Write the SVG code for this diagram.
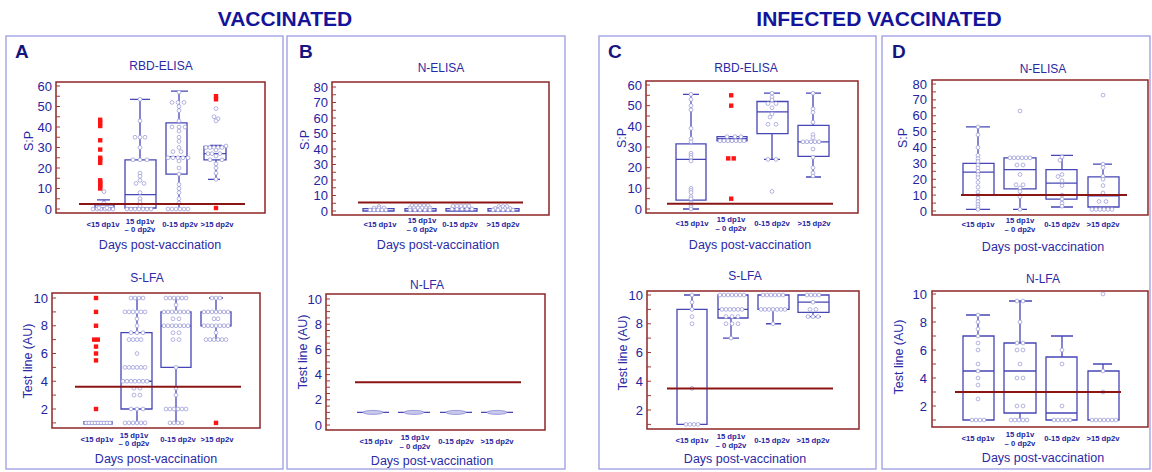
<svg xmlns="http://www.w3.org/2000/svg" width="1152" height="472" viewBox="0 0 1152 472">
<style>
text{font-family:"Liberation Sans",Arial,sans-serif;fill:#1f1f9e}
.hdr{font-size:21px;font-weight:bold;fill:#14149a;text-anchor:middle}
.let{font-size:19px;font-weight:bold;fill:#15157e}
.ttl{font-size:12px;text-anchor:middle;fill:#2a2aa6}
.tk{font-size:13px;text-anchor:end;fill:#2424a0}
.ax{font-size:12.5px;text-anchor:middle;fill:#2a2aa6}
.cat{font-size:7.7px;font-weight:bold;text-anchor:middle;fill:#2424a0}
.panel{fill:#fff;stroke:#a3a3e6;stroke-width:1.4}
.frame{fill:none;stroke:#8e2626;stroke-width:1.5}
.tick{stroke:#a03a3a;stroke-width:1;fill:none}
.box{fill:none;stroke:#4646b6;stroke-width:1.3}
.cut{stroke:#8b1515;stroke-width:2}
.p{fill:#fff;stroke:#9494d6;stroke-width:0.7}
.o{fill:#ff1414}
</style>
<rect width="1152" height="472" fill="#fff"/>
<text class="hdr" x="285" y="26">VACCINATED</text>
<text class="hdr" x="879" y="26">INFECTED VACCINATED</text>

<!-- PANEL A -->
<g id="panelA">
<rect class="panel" x="6" y="36" width="277" height="433"/>
<text class="let" x="15" y="58">A</text>
<g id="A-rbd">
<text class="ttl" x="161" y="69.5">RBD-ELISA</text>
<rect class="frame" x="56" y="82" width="209" height="131"/>
<path class="tick" d="M56 209h4M56 198.75h4M56 188.5h4M56 178.25h4M56 168h4M56 157.75h4M56 147.5h4M56 137.25h4M56 127h4M56 116.75h4M56 106.5h4M56 96.25h4M56 86h4"/>
<g><text class="tk" x="52" y="213.5">0</text><text class="tk" x="52" y="193">10</text><text class="tk" x="52" y="172.5">20</text><text class="tk" x="52" y="152">30</text><text class="tk" x="52" y="131.5">40</text><text class="tk" x="52" y="111">50</text><text class="tk" x="52" y="90.5">60</text></g>
<text class="ax" transform="translate(33,141) rotate(-90)">S:P</text>
<path class="box" d="M95 204.9h19v4.1h-19zM95 208h19M104 204.9V199.8M97 199.8h13"/>
<path class="box" d="M125 159.8h31v48.2h-31zM125 194.6h31M140 159.8V99.3M130 99.3h20M140 208V209"/>
<path class="box" d="M166 122.9h21v51.25h-21zM166 156.7h21M179 122.9V91.1M171 91.1h17M179 174.15V209"/>
<path class="box" d="M204 146.5h22v13.3h-22zM204 153.65h22M216 146.5V145.45M210 145.45h12M216 159.8V179.3M208 179.3h12"/>
<g>
<circle class="p" cx="93" cy="209" r="1.9"/><circle class="p" cx="97" cy="209" r="1.9"/><circle class="p" cx="101" cy="209" r="1.9"/><circle class="p" cx="105" cy="209" r="1.9"/><circle class="p" cx="109" cy="209" r="1.9"/><circle class="p" cx="113" cy="209" r="1.9"/>
<circle class="p" cx="99" cy="207.9" r="1.9"/><circle class="p" cx="107" cy="207.9" r="1.9"/><circle class="p" cx="104" cy="202.8" r="1.9"/><circle class="p" cx="104" cy="191.6" r="1.9"/>
<circle class="p" cx="140" cy="99.3" r="1.9"/><circle class="p" cx="140" cy="120.85" r="1.9"/><circle class="p" cx="135" cy="137.25" r="1.9"/><circle class="p" cx="140" cy="137.25" r="1.9"/><circle class="p" cx="145" cy="137.25" r="1.9"/><circle class="p" cx="140" cy="147.5" r="1.9"/><circle class="p" cx="133" cy="159.8" r="1.9"/><circle class="p" cx="140" cy="159.8" r="1.9"/><circle class="p" cx="147" cy="159.8" r="1.9"/><circle class="p" cx="140" cy="173.1" r="1.9"/><circle class="p" cx="140" cy="176.2" r="1.9"/><circle class="p" cx="140" cy="180.3" r="1.9"/><circle class="p" cx="136" cy="183.4" r="1.9"/><circle class="p" cx="144" cy="183.4" r="1.9"/><circle class="p" cx="140" cy="192.6" r="1.9"/><circle class="p" cx="140" cy="198.75" r="1.9"/><circle class="p" cx="140" cy="201.8" r="1.9"/><circle class="p" cx="140" cy="206" r="1.9"/>
<circle class="p" cx="127" cy="209" r="1.9"/><circle class="p" cx="131" cy="209" r="1.9"/><circle class="p" cx="135" cy="209" r="1.9"/><circle class="p" cx="139" cy="209" r="1.9"/><circle class="p" cx="143" cy="209" r="1.9"/><circle class="p" cx="147" cy="209" r="1.9"/><circle class="p" cx="151" cy="209" r="1.9"/>
<circle class="p" cx="179" cy="92.15" r="1.9"/><circle class="p" cx="172" cy="102.4" r="1.9"/><circle class="p" cx="178" cy="102.4" r="1.9"/><circle class="p" cx="184" cy="102.4" r="1.9"/><circle class="p" cx="179" cy="106.5" r="1.9"/><circle class="p" cx="179" cy="110.6" r="1.9"/><circle class="p" cx="179" cy="120.85" r="1.9"/><circle class="p" cx="172" cy="127" r="1.9"/><circle class="p" cx="179" cy="127" r="1.9"/><circle class="p" cx="185" cy="127" r="1.9"/><circle class="p" cx="179" cy="131.1" r="1.9"/><circle class="p" cx="179" cy="137.25" r="1.9"/><circle class="p" cx="179" cy="141.35" r="1.9"/><circle class="p" cx="179" cy="147.5" r="1.9"/><circle class="p" cx="173" cy="151.6" r="1.9"/><circle class="p" cx="181" cy="151.6" r="1.9"/>
<circle class="p" cx="168" cy="157.75" r="1.9"/><circle class="p" cx="173" cy="157.75" r="1.9"/><circle class="p" cx="178" cy="157.75" r="1.9"/><circle class="p" cx="183" cy="157.75" r="1.9"/><circle class="p" cx="188" cy="157.75" r="1.9"/>
<circle class="p" cx="179" cy="161" r="1.9"/><circle class="p" cx="179" cy="168" r="1.9"/><circle class="p" cx="179" cy="174.15" r="1.9"/><circle class="p" cx="179" cy="184.4" r="1.9"/><circle class="p" cx="179" cy="188.5" r="1.9"/><circle class="p" cx="179" cy="192.6" r="1.9"/><circle class="p" cx="179" cy="198.75" r="1.9"/><circle class="p" cx="179" cy="202.85" r="1.9"/>
<circle class="p" cx="168" cy="209" r="1.9"/><circle class="p" cx="172" cy="209" r="1.9"/><circle class="p" cx="176" cy="209" r="1.9"/><circle class="p" cx="180" cy="209" r="1.9"/><circle class="p" cx="184" cy="209" r="1.9"/><circle class="p" cx="188" cy="209" r="1.9"/>
<circle class="p" cx="216" cy="108.55" r="1.9"/><circle class="p" cx="214" cy="116.75" r="1.9"/><circle class="p" cx="218" cy="118.8" r="1.9"/><circle class="p" cx="216" cy="120.85" r="1.9"/>
<circle class="p" cx="206" cy="147.5" r="1.9"/><circle class="p" cx="210" cy="147.5" r="1.9"/><circle class="p" cx="214" cy="147.5" r="1.9"/><circle class="p" cx="218" cy="147.5" r="1.9"/><circle class="p" cx="222" cy="147.5" r="1.9"/><circle class="p" cx="226" cy="146" r="1.9"/>
<circle class="p" cx="216" cy="150" r="1.9"/><circle class="p" cx="208" cy="153.65" r="1.9"/><circle class="p" cx="212" cy="153.65" r="1.9"/><circle class="p" cx="220" cy="153.65" r="1.9"/><circle class="p" cx="216" cy="156" r="1.9"/><circle class="p" cx="210" cy="159.8" r="1.9"/><circle class="p" cx="222" cy="159.8" r="1.9"/><circle class="p" cx="216" cy="163.9" r="1.9"/><circle class="p" cx="216" cy="168" r="1.9"/><circle class="p" cx="216" cy="173.1" r="1.9"/><circle class="p" cx="216" cy="179.3" r="1.9"/>
</g>
<g>
<rect class="o" x="98" y="117.6" width="4.4" height="4.4"/><rect class="o" x="98" y="120.7" width="4.4" height="4.4"/><rect class="o" x="98" y="123.8" width="4.4" height="4.4"/><rect class="o" x="98" y="138.1" width="4.4" height="4.4"/><rect class="o" x="98" y="147.35" width="4.4" height="4.4"/><rect class="o" x="98" y="155.55" width="4.4" height="4.4"/><rect class="o" x="98" y="157.6" width="4.4" height="4.4"/><rect class="o" x="98" y="160.7" width="4.4" height="4.4"/><rect class="o" x="98" y="178.1" width="4.4" height="4.4"/><rect class="o" x="98" y="180.15" width="4.4" height="4.4"/><rect class="o" x="98" y="182.2" width="4.4" height="4.4"/><rect class="o" x="98" y="184.25" width="4.4" height="4.4"/><rect class="o" x="98" y="186.3" width="4.4" height="4.4"/>
<rect class="o" x="213.8" y="94" width="4.4" height="4.4"/><rect class="o" x="213.8" y="97.1" width="4.4" height="4.4"/><rect class="o" x="213.8" y="205.8" width="4.4" height="4.4"/>
</g>
<line class="cut" x1="79" y1="203.9" x2="245" y2="203.9"/>
<text class="cat" x="103" y="227">&lt;15 dp1v</text>
<text class="cat" x="140" y="223.5">15 dp1v<tspan x="140" dy="8">– 0 dp2v</tspan></text>
<text class="cat" x="180" y="227">0-15 dp2v</text>
<text class="cat" x="217" y="227">&gt;15 dp2v</text>
<text class="ax" x="160" y="249">Days post-vaccination</text>
</g>
<g id="A-slfa">
<text class="ttl" x="147" y="282">S-LFA</text>
<rect class="frame" x="52" y="293" width="208" height="135"/>
<path class="tick" d="M52 298h4M52 311.9h4M52 325.75h4M52 339.6h4M52 353.5h4M52 367.4h4M52 381.25h4M52 395.1h4M52 409h4M52 422.9h4"/>
<g><text class="tk" x="48" y="302.5">10</text><text class="tk" x="48" y="330.25">8</text><text class="tk" x="48" y="358">6</text><text class="tk" x="48" y="385.75">4</text><text class="tk" x="48" y="413.5">2</text></g>
<text class="ax" transform="translate(32,361) rotate(-90)">Test line (AU)</text>
<path class="box" d="M84 421.6h28v2.6h-28z"/>
<path class="box" d="M121 332.7h31v76.3h-31zM121 381.25h31M137 332.7V298M130 298h14M137 409V422.9M130 422.9h14"/>
<path class="box" d="M161 311.9h30v55.5h-30zM161 325.75h30M176 311.9V298M169 298h14M176 367.4V422.9M169 422.9h14"/>
<path class="box" d="M201 311.9h30v13.85h-30zM216 311.9V298M209 298h14M216 325.75V339.6M209 339.6h14"/>
<g>
<circle class="p" cx="86" cy="422.9" r="1.9"/><circle class="p" cx="89" cy="422.9" r="1.9"/><circle class="p" cx="92" cy="422.9" r="1.9"/><circle class="p" cx="95" cy="422.9" r="1.9"/><circle class="p" cx="98" cy="422.9" r="1.9"/><circle class="p" cx="101" cy="422.9" r="1.9"/><circle class="p" cx="104" cy="422.9" r="1.9"/><circle class="p" cx="107" cy="422.9" r="1.9"/><circle class="p" cx="110" cy="422.9" r="1.9"/>
<circle class="p" cx="131" cy="298" r="1.9"/><circle class="p" cx="135" cy="298" r="1.9"/><circle class="p" cx="139" cy="298" r="1.9"/><circle class="p" cx="143" cy="298" r="1.9"/>
<circle class="p" cx="125" cy="311.9" r="1.9"/><circle class="p" cx="129" cy="311.9" r="1.9"/><circle class="p" cx="133" cy="311.9" r="1.9"/><circle class="p" cx="137" cy="311.9" r="1.9"/><circle class="p" cx="141" cy="311.9" r="1.9"/><circle class="p" cx="145" cy="311.9" r="1.9"/>
<circle class="p" cx="137" cy="318.8" r="1.9"/><circle class="p" cx="137" cy="325.75" r="1.9"/><circle class="p" cx="131" cy="332.7" r="1.9"/><circle class="p" cx="137" cy="332.7" r="1.9"/><circle class="p" cx="143" cy="332.7" r="1.9"/>
<circle class="p" cx="129" cy="339.6" r="1.9"/><circle class="p" cx="133" cy="339.6" r="1.9"/><circle class="p" cx="137" cy="339.6" r="1.9"/><circle class="p" cx="141" cy="339.6" r="1.9"/><circle class="p" cx="137" cy="353.5" r="1.9"/>
<circle class="p" cx="125" cy="367.4" r="1.9"/><circle class="p" cx="129" cy="367.4" r="1.9"/><circle class="p" cx="133" cy="367.4" r="1.9"/><circle class="p" cx="137" cy="367.4" r="1.9"/><circle class="p" cx="141" cy="367.4" r="1.9"/><circle class="p" cx="145" cy="367.4" r="1.9"/>
<circle class="p" cx="123" cy="381.25" r="1.9"/><circle class="p" cx="127" cy="381.25" r="1.9"/><circle class="p" cx="131" cy="381.25" r="1.9"/><circle class="p" cx="135" cy="381.25" r="1.9"/><circle class="p" cx="139" cy="381.25" r="1.9"/><circle class="p" cx="143" cy="381.25" r="1.9"/><circle class="p" cx="147" cy="381.25" r="1.9"/>
<circle class="p" cx="134" cy="388.2" r="1.9"/><circle class="p" cx="140" cy="388.2" r="1.9"/><circle class="p" cx="134" cy="395.1" r="1.9"/><circle class="p" cx="140" cy="395.1" r="1.9"/>
<circle class="p" cx="131" cy="409" r="1.9"/><circle class="p" cx="137" cy="409" r="1.9"/><circle class="p" cx="143" cy="409" r="1.9"/>
<circle class="p" cx="125" cy="422.9" r="1.9"/><circle class="p" cx="129" cy="422.9" r="1.9"/><circle class="p" cx="133" cy="422.9" r="1.9"/><circle class="p" cx="137" cy="422.9" r="1.9"/><circle class="p" cx="141" cy="422.9" r="1.9"/><circle class="p" cx="145" cy="422.9" r="1.9"/>
<circle class="p" cx="166" cy="298" r="1.9"/><circle class="p" cx="170" cy="298" r="1.9"/><circle class="p" cx="174" cy="298" r="1.9"/><circle class="p" cx="178" cy="298" r="1.9"/><circle class="p" cx="182" cy="298" r="1.9"/><circle class="p" cx="186" cy="298" r="1.9"/>
<circle class="p" cx="176" cy="304.9" r="1.9"/>
<circle class="p" cx="164" cy="311.9" r="1.9"/><circle class="p" cx="168" cy="311.9" r="1.9"/><circle class="p" cx="172" cy="311.9" r="1.9"/><circle class="p" cx="176" cy="311.9" r="1.9"/><circle class="p" cx="180" cy="311.9" r="1.9"/><circle class="p" cx="184" cy="311.9" r="1.9"/><circle class="p" cx="188" cy="311.9" r="1.9"/>
<circle class="p" cx="173" cy="318.8" r="1.9"/><circle class="p" cx="179" cy="318.8" r="1.9"/>
<circle class="p" cx="164" cy="325.75" r="1.9"/><circle class="p" cx="168" cy="325.75" r="1.9"/><circle class="p" cx="172" cy="325.75" r="1.9"/><circle class="p" cx="176" cy="325.75" r="1.9"/><circle class="p" cx="180" cy="325.75" r="1.9"/><circle class="p" cx="184" cy="325.75" r="1.9"/><circle class="p" cx="188" cy="325.75" r="1.9"/>
<circle class="p" cx="173" cy="332.7" r="1.9"/><circle class="p" cx="179" cy="332.7" r="1.9"/><circle class="p" cx="173" cy="339.6" r="1.9"/><circle class="p" cx="179" cy="339.6" r="1.9"/><circle class="p" cx="176" cy="367.4" r="1.9"/><circle class="p" cx="176" cy="388.2" r="1.9"/><circle class="p" cx="176" cy="395.1" r="1.9"/>
<circle class="p" cx="166" cy="409" r="1.9"/><circle class="p" cx="170" cy="409" r="1.9"/><circle class="p" cx="174" cy="409" r="1.9"/><circle class="p" cx="178" cy="409" r="1.9"/><circle class="p" cx="182" cy="409" r="1.9"/><circle class="p" cx="186" cy="409" r="1.9"/>
<circle class="p" cx="170" cy="422.9" r="1.9"/><circle class="p" cx="174" cy="422.9" r="1.9"/><circle class="p" cx="178" cy="422.9" r="1.9"/><circle class="p" cx="182" cy="422.9" r="1.9"/>
<circle class="p" cx="212" cy="298" r="1.9"/><circle class="p" cx="216" cy="298" r="1.9"/><circle class="p" cx="220" cy="298" r="1.9"/>
<circle class="p" cx="204" cy="311.9" r="1.9"/><circle class="p" cx="208" cy="311.9" r="1.9"/><circle class="p" cx="212" cy="311.9" r="1.9"/><circle class="p" cx="216" cy="311.9" r="1.9"/><circle class="p" cx="220" cy="311.9" r="1.9"/><circle class="p" cx="224" cy="311.9" r="1.9"/><circle class="p" cx="228" cy="311.9" r="1.9"/>
<circle class="p" cx="214" cy="318.8" r="1.9"/><circle class="p" cx="218" cy="318.8" r="1.9"/>
<circle class="p" cx="204" cy="325.75" r="1.9"/><circle class="p" cx="208" cy="325.75" r="1.9"/><circle class="p" cx="212" cy="325.75" r="1.9"/><circle class="p" cx="216" cy="325.75" r="1.9"/><circle class="p" cx="220" cy="325.75" r="1.9"/><circle class="p" cx="224" cy="325.75" r="1.9"/><circle class="p" cx="228" cy="325.75" r="1.9"/>
<circle class="p" cx="216" cy="332.7" r="1.9"/>
<circle class="p" cx="206" cy="339.6" r="1.9"/><circle class="p" cx="210" cy="339.6" r="1.9"/><circle class="p" cx="214" cy="339.6" r="1.9"/><circle class="p" cx="218" cy="339.6" r="1.9"/><circle class="p" cx="222" cy="339.6" r="1.9"/><circle class="p" cx="226" cy="339.6" r="1.9"/>
</g>
<g>
<rect class="o" x="93.8" y="295.8" width="4.4" height="4.4"/><rect class="o" x="93.8" y="309.7" width="4.4" height="4.4"/><rect class="o" x="93.8" y="323.55" width="4.4" height="4.4"/><rect class="o" x="92" y="337.4" width="4.4" height="4.4"/><rect class="o" x="95.6" y="337.4" width="4.4" height="4.4"/><rect class="o" x="93.8" y="344.4" width="4.4" height="4.4"/><rect class="o" x="93.8" y="351.3" width="4.4" height="4.4"/><rect class="o" x="93.8" y="358.2" width="4.4" height="4.4"/><rect class="o" x="93.8" y="406.8" width="4.4" height="4.4"/>
<rect class="o" x="213.8" y="420.7" width="4.4" height="4.4"/>
</g>
<line class="cut" x1="75" y1="386.8" x2="241" y2="386.8"/>
<text class="cat" x="97" y="442">&lt;15 dp1v</text>
<text class="cat" x="134" y="438">15 dp1v<tspan x="134" dy="8">– 0 dp2v</tspan></text>
<text class="cat" x="178" y="442">0-15 dp2v</text>
<text class="cat" x="217" y="442">&gt;15 dp2v</text>
<text class="ax" x="156" y="463">Days post-vaccination</text>
</g>
</g>

<!-- PANEL B -->
<g id="panelB">
<rect class="panel" x="287" y="36" width="278" height="433"/>
<text class="let" x="299" y="58">B</text>
<g id="B-nelisa">
<text class="ttl" x="441" y="72">N-ELISA</text>
<rect class="frame" x="332" y="82" width="217" height="133"/>
<path class="tick" d="M332 211h4M332 203.25h4M332 195.5h4M332 187.75h4M332 180h4M332 172.25h4M332 164.5h4M332 156.75h4M332 149h4M332 141.25h4M332 133.5h4M332 125.75h4M332 118h4M332 110.25h4M332 102.5h4M332 94.75h4M332 87h4"/>
<g><text class="tk" x="328" y="215.5">0</text><text class="tk" x="328" y="200">10</text><text class="tk" x="328" y="184.5">20</text><text class="tk" x="328" y="169">30</text><text class="tk" x="328" y="153.5">40</text><text class="tk" x="328" y="138">50</text><text class="tk" x="328" y="122.5">60</text><text class="tk" x="328" y="107">70</text><text class="tk" x="328" y="91.5">80</text></g>
<text class="ax" transform="translate(309,140) rotate(-90)">S:P</text>
<path class="box" d="M363 208.7h31v2.3h-31zM405 208.7h31v2.3h-31zM446 208.7h31v2.3h-31zM488 208.7h31v2.3h-31z" stroke-width="1.6"/>
<g>
<circle class="p" cx="379" cy="206.4" r="1.9"/><circle class="p" cx="374" cy="208" r="1.9"/><circle class="p" cx="379" cy="208" r="1.9"/><circle class="p" cx="384" cy="208" r="1.9"/><circle class="p" cx="370" cy="210" r="1.9"/><circle class="p" cx="374" cy="210" r="1.9"/><circle class="p" cx="378" cy="210" r="1.9"/><circle class="p" cx="382" cy="210" r="1.9"/><circle class="p" cx="386" cy="210" r="1.9"/>
<circle class="p" cx="412" cy="205.6" r="1.9"/><circle class="p" cx="416" cy="205.6" r="1.9"/><circle class="p" cx="420" cy="205.6" r="1.9"/><circle class="p" cx="424" cy="205.6" r="1.9"/><circle class="p" cx="428" cy="205.6" r="1.9"/>
<circle class="p" cx="410" cy="207.9" r="1.9"/><circle class="p" cx="414" cy="207.9" r="1.9"/><circle class="p" cx="418" cy="207.9" r="1.9"/><circle class="p" cx="422" cy="207.9" r="1.9"/><circle class="p" cx="426" cy="207.9" r="1.9"/><circle class="p" cx="430" cy="207.9" r="1.9"/>
<circle class="p" cx="410" cy="210" r="1.9"/><circle class="p" cx="415" cy="210" r="1.9"/><circle class="p" cx="420" cy="210" r="1.9"/><circle class="p" cx="425" cy="210" r="1.9"/><circle class="p" cx="430" cy="210" r="1.9"/>
<circle class="p" cx="453" cy="206" r="1.9"/><circle class="p" cx="457" cy="206" r="1.9"/><circle class="p" cx="461" cy="206" r="1.9"/><circle class="p" cx="465" cy="206" r="1.9"/><circle class="p" cx="469" cy="206" r="1.9"/>
<circle class="p" cx="452" cy="209" r="1.9"/><circle class="p" cx="457" cy="209" r="1.9"/><circle class="p" cx="462" cy="209" r="1.9"/><circle class="p" cx="467" cy="209" r="1.9"/><circle class="p" cx="472" cy="209" r="1.9"/>
<circle class="p" cx="499" cy="206.5" r="1.9"/><circle class="p" cx="503" cy="206.5" r="1.9"/><circle class="p" cx="507" cy="206.5" r="1.9"/>
<circle class="p" cx="495" cy="208.5" r="1.9"/><circle class="p" cx="500" cy="208.5" r="1.9"/><circle class="p" cx="505" cy="208.5" r="1.9"/><circle class="p" cx="510" cy="208.5" r="1.9"/>
<circle class="p" cx="493" cy="210" r="1.9"/><circle class="p" cx="498" cy="210" r="1.9"/><circle class="p" cx="503" cy="210" r="1.9"/><circle class="p" cx="508" cy="210" r="1.9"/><circle class="p" cx="513" cy="210" r="1.9"/>
</g>
<line class="cut" x1="358" y1="202.5" x2="523" y2="202.5"/>
<text class="cat" x="380" y="227">&lt;15 dp1v</text>
<text class="cat" x="422" y="223">15 dp1v<tspan x="422" dy="8.5">– 0 dp2v</tspan></text>
<text class="cat" x="460" y="227">0-15 dp2v</text>
<text class="cat" x="503" y="227">&gt;15 dp2v</text>
<text class="ax" x="438" y="249">Days post-vaccination</text>
</g>
<g id="B-nlfa">
<text class="ttl" x="427" y="289">N-LFA</text>
<rect class="frame" x="326" y="294" width="219" height="136"/>
<path class="tick" d="M326 425h4M326 418.7h4M326 412.4h4M326 406.1h4M326 399.8h4M326 393.5h4M326 387.2h4M326 380.9h4M326 374.6h4M326 368.3h4M326 362h4M326 355.7h4M326 349.4h4M326 343.1h4M326 336.8h4M326 330.5h4M326 324.2h4M326 317.9h4M326 311.6h4M326 305.3h4M326 299h4"/>
<g><text class="tk" x="322" y="429.5">0</text><text class="tk" x="322" y="404.3">2</text><text class="tk" x="322" y="379.1">4</text><text class="tk" x="322" y="353.9">6</text><text class="tk" x="322" y="328.7">8</text><text class="tk" x="322" y="303.5">10</text></g>
<text class="ax" transform="translate(307,352) rotate(-90)">Test line (AU)</text>
<path class="box" d="M357 412.4h32M398 412.4h32M440 412.4h32M481 412.4h32" stroke-width="1.2"/>
<g>
<ellipse cx="373" cy="412.4" rx="10" ry="2" fill="#c8c8ec" stroke="#8a8ad2" stroke-width="0.8"/>
<ellipse cx="414" cy="412.4" rx="10" ry="2" fill="#c8c8ec" stroke="#8a8ad2" stroke-width="0.8"/>
<ellipse cx="456" cy="412.4" rx="10" ry="2" fill="#c8c8ec" stroke="#8a8ad2" stroke-width="0.8"/>
<ellipse cx="497" cy="412.4" rx="10" ry="2" fill="#c8c8ec" stroke="#8a8ad2" stroke-width="0.8"/>
</g>
<line class="cut" x1="355" y1="382.2" x2="521" y2="382.2"/>
<text class="cat" x="376" y="444">&lt;15 dp1v</text>
<text class="cat" x="415" y="440">15 dp1v<tspan x="415" dy="8.5">– 0 dp2v</tspan></text>
<text class="cat" x="456" y="444">0-15 dp2v</text>
<text class="cat" x="497" y="444">&gt;15 dp2v</text>
<text class="ax" x="432" y="465">Days post-vaccination</text>
</g>
</g>

<!-- PANEL C -->
<g id="panelC">
<rect class="panel" x="599" y="36" width="277" height="433"/>
<text class="let" x="608" y="58">C</text>
<g id="C-rbd">
<text class="ttl" x="746" y="72">RBD-ELISA</text>
<rect class="frame" x="646" y="81" width="212" height="132"/>
<path class="tick" d="M646 209h4M646 198.7h4M646 188.3h4M646 178h4M646 167.7h4M646 157.3h4M646 147h4M646 136.7h4M646 126.4h4M646 116h4M646 105.65h4M646 95.3h4M646 85h4"/>
<g><text class="tk" x="642" y="213.5">0</text><text class="tk" x="642" y="192.8">10</text><text class="tk" x="642" y="172.2">20</text><text class="tk" x="642" y="151.5">30</text><text class="tk" x="642" y="130.9">40</text><text class="tk" x="642" y="110.2">50</text><text class="tk" x="642" y="89.5">60</text></g>
<text class="ax" transform="translate(626,138) rotate(-90)">S:P</text>
<path class="box" d="M676 143.9h30v56.2h-30zM676 159.4h30M691 143.9V94.3M683 94.3h16M691 200.1V209M683 209h16"/>
<path class="box" d="M717 136.7h30v4.1h-30zM717 138.7h30"/>
<path class="box" d="M757 101.5h31v32.1h-31zM757 111.9h31M772 101.5V93.2M764 93.2h16M772 133.6V159.4M764 159.4h16"/>
<path class="box" d="M798 125.3h31v31h-31zM798 141.8h31M813 125.3V93.2M806 93.2h15M813 156.3V177M806 177h15"/>
<g>
<circle class="p" cx="691" cy="94.3" r="1.9"/><circle class="p" cx="691" cy="99.4" r="1.9"/><circle class="p" cx="691" cy="105.65" r="1.9"/><circle class="p" cx="691" cy="109.8" r="1.9"/><circle class="p" cx="691" cy="128.4" r="1.9"/><circle class="p" cx="691" cy="138.7" r="1.9"/><circle class="p" cx="691" cy="141.8" r="1.9"/><circle class="p" cx="691" cy="153.2" r="1.9"/><circle class="p" cx="691" cy="155.3" r="1.9"/><circle class="p" cx="691" cy="157.3" r="1.9"/><circle class="p" cx="691" cy="161" r="1.9"/><circle class="p" cx="691" cy="188.3" r="1.9"/><circle class="p" cx="691" cy="190.4" r="1.9"/><circle class="p" cx="691" cy="192.5" r="1.9"/><circle class="p" cx="691" cy="196.6" r="1.9"/><circle class="p" cx="691" cy="198.7" r="1.9"/><circle class="p" cx="691" cy="202.8" r="1.9"/><circle class="p" cx="691" cy="204.9" r="1.9"/><circle class="p" cx="691" cy="206.9" r="1.9"/><circle class="p" cx="691" cy="209" r="1.9"/>
<circle class="p" cx="720" cy="140.8" r="1.9"/><circle class="p" cx="724" cy="140.8" r="1.9"/><circle class="p" cx="728" cy="140.8" r="1.9"/><circle class="p" cx="732" cy="140.8" r="1.9"/><circle class="p" cx="736" cy="140.8" r="1.9"/><circle class="p" cx="740" cy="140.8" r="1.9"/><circle class="p" cx="744" cy="140.8" r="1.9"/>
<circle class="p" cx="727" cy="136.7" r="1.9"/><circle class="p" cx="735" cy="136.7" r="1.9"/><circle class="p" cx="741" cy="136.7" r="1.9"/>
<circle class="p" cx="772" cy="93.2" r="1.9"/><circle class="p" cx="772" cy="97" r="1.9"/><circle class="p" cx="772" cy="100" r="1.9"/><circle class="p" cx="768" cy="103.6" r="1.9"/><circle class="p" cx="776" cy="103.6" r="1.9"/><circle class="p" cx="772" cy="107.7" r="1.9"/><circle class="p" cx="772" cy="113.9" r="1.9"/><circle class="p" cx="770" cy="117" r="1.9"/><circle class="p" cx="768" cy="124.3" r="1.9"/><circle class="p" cx="776" cy="124.3" r="1.9"/><circle class="p" cx="768" cy="159.4" r="1.9"/><circle class="p" cx="776" cy="159.4" r="1.9"/><circle class="p" cx="772" cy="191.4" r="1.9"/>
<circle class="p" cx="813" cy="93.2" r="1.9"/><circle class="p" cx="813" cy="108.8" r="1.9"/><circle class="p" cx="813" cy="112.4" r="1.9"/><circle class="p" cx="813" cy="122.2" r="1.9"/><circle class="p" cx="813" cy="134.6" r="1.9"/><circle class="p" cx="813" cy="137.7" r="1.9"/>
<circle class="p" cx="803" cy="141.8" r="1.9"/><circle class="p" cx="807" cy="141.8" r="1.9"/><circle class="p" cx="811" cy="141.8" r="1.9"/><circle class="p" cx="815" cy="141.8" r="1.9"/><circle class="p" cx="819" cy="141.8" r="1.9"/>
<circle class="p" cx="813" cy="149.1" r="1.9"/><circle class="p" cx="813" cy="157.3" r="1.9"/><circle class="p" cx="813" cy="167.7" r="1.9"/><circle class="p" cx="813" cy="172.9" r="1.9"/><circle class="p" cx="813" cy="176" r="1.9"/>
</g>
<g>
<rect class="o" x="729" y="93.1" width="4.4" height="4.4"/><rect class="o" x="729" y="103.45" width="4.4" height="4.4"/><rect class="o" x="726" y="156.2" width="4.4" height="4.4"/><rect class="o" x="731.5" y="156.2" width="4.4" height="4.4"/><rect class="o" x="729" y="196.5" width="4.4" height="4.4"/>
</g>
<line class="cut" x1="667" y1="203.8" x2="833" y2="203.8"/>
<text class="cat" x="692" y="226">&lt;15 dp1v</text>
<text class="cat" x="731" y="222">15 dp1v<tspan x="731" dy="8.5">– 0 dp2v</tspan></text>
<text class="cat" x="772" y="226">0-15 dp2v</text>
<text class="cat" x="814" y="226">&gt;15 dp2v</text>
<text class="ax" x="750" y="249">Days post-vaccination</text>
</g>
<g id="C-slfa">
<text class="ttl" x="745" y="280">S-LFA</text>
<rect class="frame" x="647" y="291" width="212" height="138"/>
<path class="tick" d="M647 295h4M647 309.4h4M647 323.75h4M647 338.1h4M647 352.5h4M647 366.9h4M647 381.25h4M647 395.6h4M647 410h4M647 424.4h4"/>
<g><text class="tk" x="643" y="299.5">10</text><text class="tk" x="643" y="328.25">8</text><text class="tk" x="643" y="357">6</text><text class="tk" x="643" y="385.75">4</text><text class="tk" x="643" y="414.5">2</text></g>
<text class="ax" transform="translate(627,353) rotate(-90)">Test line (AU)</text>
<path class="box" d="M677 309.4h30v115h-30zM692 309.4V295M684 295h16"/>
<path class="box" d="M718 295h30v23h-30zM718 309.4h30M731 318V338.1M723 338.1h16"/>
<path class="box" d="M758 295h31v14.4h-31zM773 309.4V323.75M766 323.75h15"/>
<path class="box" d="M798 295h31v17.3h-31zM798 302.2h31M813 312.3V316.6M806 316.6h15"/>
<g>
<circle class="p" cx="692" cy="295" r="1.9"/><circle class="p" cx="692" cy="302.2" r="1.9"/><circle class="p" cx="692" cy="309.4" r="1.9"/><circle class="p" cx="692" cy="316.6" r="1.9"/><circle class="p" cx="692" cy="323.75" r="1.9"/><circle class="p" cx="692" cy="388.4" r="1.9"/>
<circle class="p" cx="686" cy="424.4" r="1.9"/><circle class="p" cx="690" cy="424.4" r="1.9"/><circle class="p" cx="694" cy="424.4" r="1.9"/><circle class="p" cx="698" cy="424.4" r="1.9"/>
<circle class="p" cx="720" cy="295" r="1.9"/><circle class="p" cx="724" cy="295" r="1.9"/><circle class="p" cx="728" cy="295" r="1.9"/><circle class="p" cx="732" cy="295" r="1.9"/><circle class="p" cx="736" cy="295" r="1.9"/><circle class="p" cx="740" cy="295" r="1.9"/><circle class="p" cx="744" cy="295" r="1.9"/>
<circle class="p" cx="722" cy="309.4" r="1.9"/><circle class="p" cx="726" cy="309.4" r="1.9"/><circle class="p" cx="730" cy="309.4" r="1.9"/><circle class="p" cx="734" cy="309.4" r="1.9"/><circle class="p" cx="738" cy="309.4" r="1.9"/><circle class="p" cx="742" cy="309.4" r="1.9"/>
<circle class="p" cx="726" cy="316.6" r="1.9"/><circle class="p" cx="732" cy="316.6" r="1.9"/><circle class="p" cx="738" cy="316.6" r="1.9"/>
<circle class="p" cx="726" cy="323.75" r="1.9"/><circle class="p" cx="732" cy="323.75" r="1.9"/><circle class="p" cx="738" cy="323.75" r="1.9"/><circle class="p" cx="731" cy="338.1" r="1.9"/>
<circle class="p" cx="763" cy="295" r="1.9"/><circle class="p" cx="767" cy="295" r="1.9"/><circle class="p" cx="771" cy="295" r="1.9"/><circle class="p" cx="775" cy="295" r="1.9"/><circle class="p" cx="779" cy="295" r="1.9"/><circle class="p" cx="783" cy="295" r="1.9"/>
<circle class="p" cx="761" cy="309.4" r="1.9"/><circle class="p" cx="765" cy="309.4" r="1.9"/><circle class="p" cx="769" cy="309.4" r="1.9"/><circle class="p" cx="773" cy="309.4" r="1.9"/><circle class="p" cx="777" cy="309.4" r="1.9"/><circle class="p" cx="781" cy="309.4" r="1.9"/><circle class="p" cx="785" cy="309.4" r="1.9"/>
<circle class="p" cx="773" cy="323.75" r="1.9"/>
<circle class="p" cx="807" cy="295" r="1.9"/><circle class="p" cx="811" cy="295" r="1.9"/><circle class="p" cx="815" cy="295" r="1.9"/><circle class="p" cx="819" cy="295" r="1.9"/>
<circle class="p" cx="813" cy="302.2" r="1.9"/><circle class="p" cx="810" cy="309.4" r="1.9"/><circle class="p" cx="816" cy="309.4" r="1.9"/>
<circle class="p" cx="808" cy="316.6" r="1.9"/><circle class="p" cx="813" cy="316.6" r="1.9"/><circle class="p" cx="818" cy="316.6" r="1.9"/>
</g>
<line class="cut" x1="667" y1="388.4" x2="833" y2="388.4"/>
<text class="cat" x="692" y="443">&lt;15 dp1v</text>
<text class="cat" x="731" y="439">15 dp1v<tspan x="731" dy="8.5">– 0 dp2v</tspan></text>
<text class="cat" x="772" y="443">0-15 dp2v</text>
<text class="cat" x="813" y="443">&gt;15 dp2v</text>
<text class="ax" x="745" y="463">Days post-vaccination</text>
</g>
</g>

<!-- PANEL D -->
<g id="panelD">
<rect class="panel" x="882" y="36" width="268" height="433"/>
<text class="let" x="892" y="58">D</text>
<g id="D-nelisa">
<text class="ttl" x="1043" y="73">N-ELISA</text>
<rect class="frame" x="932" y="80" width="216" height="135"/>
<path class="tick" d="M932 211h4M932 203.1h4M932 195.1h4M932 187.2h4M932 179.25h4M932 171.3h4M932 163.4h4M932 155.4h4M932 147.5h4M932 139.6h4M932 131.6h4M932 123.7h4M932 115.75h4M932 107.8h4M932 99.9h4M932 91.9h4M932 84h4"/>
<g><text class="tk" x="927" y="215.5">0</text><text class="tk" x="927" y="199.6">10</text><text class="tk" x="927" y="183.75">20</text><text class="tk" x="927" y="167.9">30</text><text class="tk" x="927" y="152">40</text><text class="tk" x="927" y="136.1">50</text><text class="tk" x="927" y="120.25">60</text><text class="tk" x="927" y="104.3">70</text><text class="tk" x="927" y="88.5">80</text></g>
<text class="ax" transform="translate(907,138) rotate(-90)">S:P</text>
<path class="box" d="M963 163.4h31v31.7h-31zM963 172.1h31M978 163.4V126.9M966 126.9h24M978 195.1V209.4M966 209.4h24"/>
<path class="box" d="M1004 157.8h32v31h-32zM1004 169.7h32M1020 188.8V209.4M1013 209.4h14"/>
<path class="box" d="M1046 169.7h31v29.4h-31zM1046 183.2h31M1062 169.7V155.4M1051 155.4h22M1062 199.1V207M1051 207h22"/>
<path class="box" d="M1088 176.9h31v30.1h-31zM1088 195.9h31M1103 176.9V164.2M1093 164.2h19"/>
<g>
<circle class="p" cx="978" cy="126.9" r="1.9"/><circle class="p" cx="978" cy="134.8" r="1.9"/><circle class="p" cx="978" cy="147.5" r="1.9"/><circle class="p" cx="978" cy="155.4" r="1.9"/><circle class="p" cx="978" cy="158.6" r="1.9"/><circle class="p" cx="978" cy="161.5" r="1.9"/><circle class="p" cx="978" cy="165" r="1.9"/><circle class="p" cx="978" cy="168.1" r="1.9"/><circle class="p" cx="978" cy="171.3" r="1.9"/><circle class="p" cx="978" cy="174.5" r="1.9"/><circle class="p" cx="978" cy="177.7" r="1.9"/><circle class="p" cx="978" cy="182.4" r="1.9"/><circle class="p" cx="978" cy="187.2" r="1.9"/><circle class="p" cx="978" cy="192" r="1.9"/><circle class="p" cx="978" cy="195.1" r="1.9"/><circle class="p" cx="978" cy="198.3" r="1.9"/><circle class="p" cx="978" cy="201.5" r="1.9"/><circle class="p" cx="978" cy="204.65" r="1.9"/><circle class="p" cx="978" cy="207" r="1.9"/><circle class="p" cx="978" cy="209.4" r="1.9"/>
<circle class="p" cx="1020" cy="111" r="1.9"/>
<circle class="p" cx="1010" cy="157.8" r="1.9"/><circle class="p" cx="1014" cy="157.8" r="1.9"/><circle class="p" cx="1018" cy="157.8" r="1.9"/><circle class="p" cx="1022" cy="157.8" r="1.9"/><circle class="p" cx="1026" cy="157.8" r="1.9"/><circle class="p" cx="1030" cy="157.8" r="1.9"/>
<circle class="p" cx="1017" cy="165" r="1.9"/><circle class="p" cx="1023" cy="165" r="1.9"/><circle class="p" cx="1020" cy="174.5" r="1.9"/><circle class="p" cx="1016" cy="184.8" r="1.9"/><circle class="p" cx="1023" cy="184.8" r="1.9"/><circle class="p" cx="1020" cy="188" r="1.9"/><circle class="p" cx="1020" cy="191.5" r="1.9"/><circle class="p" cx="1020" cy="196.7" r="1.9"/><circle class="p" cx="1020" cy="209.4" r="1.9"/>
<circle class="p" cx="1062" cy="157" r="1.9"/><circle class="p" cx="1060" cy="160.2" r="1.9"/><circle class="p" cx="1062" cy="174.5" r="1.9"/><circle class="p" cx="1058" cy="176.5" r="1.9"/><circle class="p" cx="1062" cy="180.8" r="1.9"/><circle class="p" cx="1062" cy="185.6" r="1.9"/><circle class="p" cx="1062" cy="195.1" r="1.9"/><circle class="p" cx="1062" cy="199.1" r="1.9"/><circle class="p" cx="1062" cy="203.1" r="1.9"/><circle class="p" cx="1062" cy="206.2" r="1.9"/>
<circle class="p" cx="1103" cy="95.1" r="1.9"/><circle class="p" cx="1103" cy="164.2" r="1.9"/><circle class="p" cx="1103" cy="167.5" r="1.9"/><circle class="p" cx="1103" cy="176.1" r="1.9"/><circle class="p" cx="1103" cy="179.25" r="1.9"/><circle class="p" cx="1103" cy="185.6" r="1.9"/><circle class="p" cx="1103" cy="193" r="1.9"/><circle class="p" cx="1099" cy="201.5" r="1.9"/><circle class="p" cx="1106" cy="201.5" r="1.9"/>
<circle class="p" cx="1092" cy="209.4" r="1.9"/><circle class="p" cx="1096" cy="209.4" r="1.9"/><circle class="p" cx="1100" cy="209.4" r="1.9"/><circle class="p" cx="1104" cy="209.4" r="1.9"/><circle class="p" cx="1108" cy="209.4" r="1.9"/><circle class="p" cx="1112" cy="209.4" r="1.9"/>
</g>
<line class="cut" x1="961" y1="195.1" x2="1127" y2="195.1"/>
<text class="cat" x="978" y="227">&lt;15 dp1v</text>
<text class="cat" x="1020" y="223">15 dp1v<tspan x="1020" dy="8.5">– 0 dp2v</tspan></text>
<text class="cat" x="1062" y="227">0-15 dp2v</text>
<text class="cat" x="1103" y="227">&gt;15 dp2v</text>
<text class="ax" x="1043" y="251">Days post-vaccination</text>
</g>
<g id="D-nlfa">
<text class="ttl" x="1043" y="283">N-LFA</text>
<rect class="frame" x="932" y="291" width="216" height="136"/>
<path class="tick" d="M932 294h4M932 308h4M932 322h4M932 336h4M932 350h4M932 364h4M932 378h4M932 392h4M932 406h4M932 420h4"/>
<g><text class="tk" x="927" y="298.5">10</text><text class="tk" x="927" y="326.5">8</text><text class="tk" x="927" y="354.5">6</text><text class="tk" x="927" y="382.5">4</text><text class="tk" x="927" y="410.5">2</text></g>
<text class="ax" transform="translate(903,357) rotate(-90)">Test line (AU)</text>
<path class="box" d="M963 336h31v84h-31zM963 371h31M978 336V315M966 315h24"/>
<path class="box" d="M1004 343h32v70h-32zM1004 371h32M1020 343V301M1009 301h23M1020 413V420"/>
<path class="box" d="M1046 357h31v63h-31zM1046 413h31M1062 357V336M1051 336h22"/>
<path class="box" d="M1088 371h31v49h-31zM1103 371V364M1093 364h19"/>
<g>
<circle class="p" cx="978" cy="315" r="1.9"/><circle class="p" cx="978" cy="322" r="1.9"/><circle class="p" cx="978" cy="329" r="1.9"/><circle class="p" cx="978" cy="336" r="1.9"/><circle class="p" cx="978" cy="343" r="1.9"/><circle class="p" cx="978" cy="350" r="1.9"/><circle class="p" cx="978" cy="364" r="1.9"/><circle class="p" cx="978" cy="371" r="1.9"/><circle class="p" cx="978" cy="378" r="1.9"/><circle class="p" cx="978" cy="385" r="1.9"/><circle class="p" cx="978" cy="399" r="1.9"/>
<circle class="p" cx="972" cy="420" r="1.9"/><circle class="p" cx="976" cy="420" r="1.9"/><circle class="p" cx="980" cy="420" r="1.9"/><circle class="p" cx="984" cy="420" r="1.9"/>
<circle class="p" cx="1017" cy="301" r="1.9"/><circle class="p" cx="1023" cy="301" r="1.9"/><circle class="p" cx="1020" cy="322" r="1.9"/><circle class="p" cx="1017" cy="343" r="1.9"/><circle class="p" cx="1023" cy="343" r="1.9"/><circle class="p" cx="1017" cy="350" r="1.9"/><circle class="p" cx="1023" cy="350" r="1.9"/><circle class="p" cx="1020" cy="364" r="1.9"/><circle class="p" cx="1017" cy="378" r="1.9"/><circle class="p" cx="1023" cy="378" r="1.9"/><circle class="p" cx="1017" cy="406" r="1.9"/><circle class="p" cx="1023" cy="406" r="1.9"/>
<circle class="p" cx="1011" cy="420" r="1.9"/><circle class="p" cx="1015" cy="420" r="1.9"/><circle class="p" cx="1019" cy="420" r="1.9"/><circle class="p" cx="1023" cy="420" r="1.9"/><circle class="p" cx="1027" cy="420" r="1.9"/>
<circle class="p" cx="1062" cy="350" r="1.9"/><circle class="p" cx="1062" cy="364" r="1.9"/><circle class="p" cx="1062" cy="406" r="1.9"/>
<circle class="p" cx="1054" cy="420" r="1.9"/><circle class="p" cx="1058" cy="420" r="1.9"/><circle class="p" cx="1062" cy="420" r="1.9"/><circle class="p" cx="1066" cy="420" r="1.9"/><circle class="p" cx="1070" cy="420" r="1.9"/>
<circle class="p" cx="1103" cy="294" r="1.9"/><circle class="p" cx="1103" cy="371" r="1.9"/><circle class="p" cx="1103" cy="392" r="1.9"/>
<circle class="p" cx="1092" cy="420" r="1.9"/><circle class="p" cx="1096" cy="420" r="1.9"/><circle class="p" cx="1100" cy="420" r="1.9"/><circle class="p" cx="1104" cy="420" r="1.9"/><circle class="p" cx="1108" cy="420" r="1.9"/><circle class="p" cx="1112" cy="420" r="1.9"/><circle class="p" cx="1116" cy="420" r="1.9"/>
</g>
<line class="cut" x1="955" y1="392" x2="1121" y2="392"/>
<text class="cat" x="978" y="441">&lt;15 dp1v</text>
<text class="cat" x="1020" y="437">15 dp1v<tspan x="1020" dy="8.5">– 0 dp2v</tspan></text>
<text class="cat" x="1062" y="441">0-15 dp2v</text>
<text class="cat" x="1103" y="441">&gt;15 dp2v</text>
<text class="ax" x="1043" y="462">Days post-vaccination</text>
</g>
</g>
</svg>
